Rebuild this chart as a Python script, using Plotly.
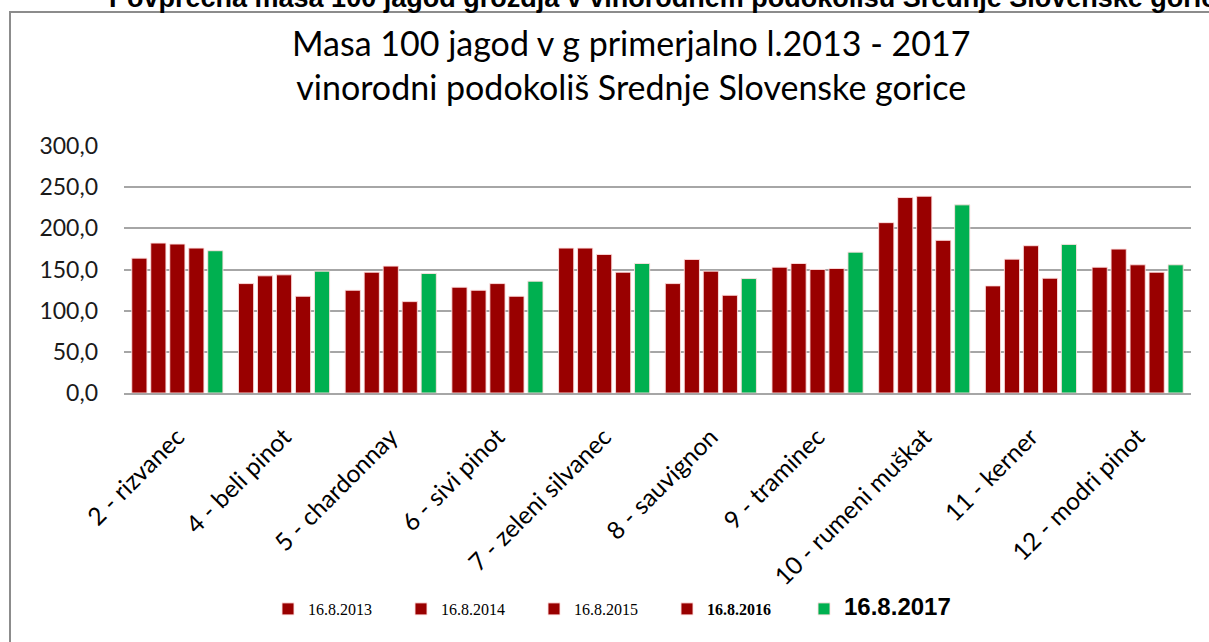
import plotly.graph_objects as go

categories = ["2 - rizvanec", "4 - beli pinot", "5 - chardonnay", "6 - sivi pinot",
              "7 - zeleni silvanec", "8 - sauvignon", "9 - traminec",
              "10 - rumeni muškat", "11 - kerner", "12 - modri pinot"]

v2013 = [163.8, 132.9, 124.8, 128.5, 176.0, 132.9, 152.8, 206.9, 130.1, 152.8]
v2014 = [182.1, 142.3, 146.7, 124.8, 176.0, 162.2, 157.3, 237.4, 162.6, 174.8]
v2015 = [180.9, 143.5, 154.1, 132.9, 168.3, 148.0, 150.0, 239.0, 178.9, 155.7]
v2016 = [176.0, 117.5, 111.0, 117.5, 146.7, 118.7, 151.2, 185.4, 139.4, 146.7]
v2017 = [172.8, 148.0, 145.1, 135.8, 157.3, 139.0, 171.1, 228.5, 180.5, 155.7]

serif = "Liberation Serif, Times New Roman, serif"
pad = "&nbsp;" * 6
series_names = ["16.8.2013" + pad, "16.8.2014" + pad, "16.8.2015" + pad,
                "<b>16.8.2016</b>" + "&nbsp;" * 7,
                "<span style='font-family:Liberation Sans, Arial;font-size:24px'><b>16.8.2017</b></span>"]
series_vals = [v2013, v2014, v2015, v2016, v2017]
series_cols = ["#990000", "#990000", "#990000", "#990000", "#00B050"]

fig = go.Figure()
for name, vals, col in zip(series_names, series_vals, series_cols):
    fig.add_trace(go.Bar(
        x=categories, y=vals, name=name,
        marker=dict(color=col, line=dict(color="rgba(255,225,225,0.9)", width=1)),
    ))

L, R, T, B = 124, 18, 146, 249
W, H = 1209, 642
pw = W - L - R
ph = H - T - B

def px_x(x):
    return (x - L) / pw

def px_y(y):
    return (H - B - y) / ph

calib = "Lato, Carlito, Calibri, sans-serif"

fig.update_layout(
    width=W, height=H,
    margin=dict(l=L, r=R, t=T, b=B),
    paper_bgcolor="white", plot_bgcolor="white",
    barmode="group", bargap=0.11, bargroupgap=0.2,
    separators=",.",
    font=dict(family=calib, color="#000000"),
    showlegend=True,
    legend=dict(orientation="h", x=px_x(268), xanchor="left",
                y=px_y(609), yanchor="middle",
                font=dict(family=serif, size=16, color="#000"),
                itemwidth=30, tracegroupgap=0, traceorder="normal"),
    xaxis=dict(type="category", tickangle=-45, tickfont=dict(family=calib, size=24.5, color="#000"),
               showline=True, linecolor="#a6a6a6", linewidth=2, showgrid=False, ticks="",
               ticklabelshift=0, ticklabelstandoff=18),
    yaxis=dict(range=[0, 300], dtick=50, tickformat=".1f", showgrid=True,
               gridcolor="#a6a6a6", gridwidth=1.5, zeroline=False, showline=False,
               tickfont=dict(family=calib, size=23, color="#1a1a1a"),
               ticklabelstandoff=25),
    annotations=[
        dict(text="Masa 100 jagod v g primerjalno l.2013 - 2017<br>vinorodni podokoliš Srednje Slovenske gorice",
             xref="paper", yref="paper", x=px_x(631), y=px_y(64), xanchor="center", yanchor="middle",
             showarrow=False, font=dict(family=calib, size=34, color="#000")),
        dict(text="<b>Povprečna masa 100 jagod grozdja v vinorodnem podokolišu Srednje Slovenske gorice</b>",
             xref="paper", yref="paper", x=px_x(107), y=px_y(15), xanchor="left", yanchor="bottom",
             showarrow=False, font=dict(family="Liberation Sans, Arial, sans-serif", size=27, color="#000")),
    ],
    shapes=[
        dict(type="rect", xref="paper", yref="paper",
             x0=px_x(10), x1=px_x(1400), y0=px_y(800), y1=px_y(12),
             line=dict(color="#8c8c8c", width=2), fillcolor="rgba(0,0,0,0)", layer="below"),
    ],
)

fig.write_html("out.html", config={"displayModeBar": False},
               post_script="document.body.style.margin='0';document.body.style.overflow='hidden';")
